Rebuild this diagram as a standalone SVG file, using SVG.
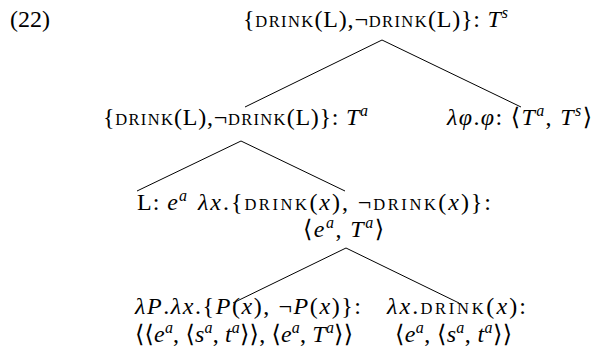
<svg xmlns="http://www.w3.org/2000/svg" width="601" height="353" viewBox="0 0 601 353">
<style>
text{font-family:"Liberation Serif","DejaVu Serif",serif;font-size:24px;fill:#000}
.i{font-style:italic}
.sc{font-size:16.5px;letter-spacing:0.6px}
.sup{font-size:16px;font-style:italic}
line{stroke:#000;stroke-width:1}
</style>
<rect width="601" height="353" fill="#fff"/>
<text x="10" y="27" textLength="40" lengthAdjust="spacingAndGlyphs">(22)</text>
<g id="root"><text x="243" y="27" textLength="265" lengthAdjust="spacing">{<tspan class="sc">DRINK</tspan>(L),¬<tspan class="sc">DRINK</tspan>(L)}: <tspan class="i">T</tspan><tspan class="sup" dy="-9">s</tspan></text></g>
<g id="nodeA"><text x="103" y="125" textLength="265" lengthAdjust="spacing">{<tspan class="sc">DRINK</tspan>(L),¬<tspan class="sc">DRINK</tspan>(L)}: <tspan class="i">T</tspan><tspan class="sup" dy="-9">a</tspan></text></g>
<g id="nodeB"><text x="447" y="125" textLength="145" lengthAdjust="spacing"><tspan class="i">λφ</tspan>.<tspan class="i">φ</tspan>: ⟨<tspan class="i">T</tspan><tspan class="sup" dy="-9">a</tspan><tspan dy="9">, </tspan><tspan class="i">T</tspan><tspan class="sup" dy="-9">s</tspan><tspan dy="9">⟩</tspan></text></g>
<g id="nodeL"><text x="137" y="210" textLength="50" lengthAdjust="spacing">L: <tspan class="i">e</tspan><tspan class="sup" dy="-9">a</tspan></text></g>
<g id="nodeC"><text x="198" y="210" textLength="293" lengthAdjust="spacing"><tspan class="i">λx</tspan>.{<tspan class="sc">DRINK</tspan>(<tspan class="i">x</tspan>), ¬<tspan class="sc">DRINK</tspan>(<tspan class="i">x</tspan>)}:</text>
<text x="303" y="237" textLength="81" lengthAdjust="spacing">⟨<tspan class="i">e</tspan><tspan class="sup" dy="-9">a</tspan><tspan dy="9">, </tspan><tspan class="i">T</tspan><tspan class="sup" dy="-9">a</tspan><tspan dy="9">⟩</tspan></text></g>
<g id="nodeD"><text x="135" y="314" textLength="226" lengthAdjust="spacing"><tspan class="i">λP</tspan>.<tspan class="i">λx</tspan>.{<tspan class="i">P</tspan>(<tspan class="i">x</tspan>), ¬<tspan class="i">P</tspan>(<tspan class="i">x</tspan>)}:</text>
<text x="135" y="342" textLength="218" lengthAdjust="spacing">⟨⟨<tspan class="i">e</tspan><tspan class="sup" dy="-9">a</tspan><tspan dy="9">, ⟨</tspan><tspan class="i">s</tspan><tspan class="sup" dy="-9">a</tspan><tspan dy="9">, </tspan><tspan class="i">t</tspan><tspan class="sup" dy="-9">a</tspan><tspan dy="9">⟩⟩, ⟨</tspan><tspan class="i">e</tspan><tspan class="sup" dy="-9">a</tspan><tspan dy="9">, </tspan><tspan class="i">T</tspan><tspan class="sup" dy="-9">a</tspan><tspan dy="9">⟩⟩</tspan></text></g>
<g id="nodeE"><text x="387" y="314" textLength="139" lengthAdjust="spacing"><tspan class="i">λx</tspan>.<tspan class="sc">DRINK</tspan>(<tspan class="i">x</tspan>):</text>
<text x="395" y="342" textLength="117" lengthAdjust="spacing">⟨<tspan class="i">e</tspan><tspan class="sup" dy="-9">a</tspan><tspan dy="9">, ⟨</tspan><tspan class="i">s</tspan><tspan class="sup" dy="-9">a</tspan><tspan dy="9">, </tspan><tspan class="i">t</tspan><tspan class="sup" dy="-9">a</tspan><tspan dy="9">⟩⟩</tspan></text></g>
<g id="connectors">
<line x1="382" y1="40" x2="245" y2="107"/>
<line x1="382" y1="40" x2="521" y2="107"/>
<line x1="241" y1="141" x2="137" y2="191"/>
<line x1="241" y1="141" x2="345" y2="191"/>
<line x1="346" y1="248" x2="233" y2="303"/>
<line x1="346" y1="248" x2="459" y2="303"/>
</g>
</svg>
